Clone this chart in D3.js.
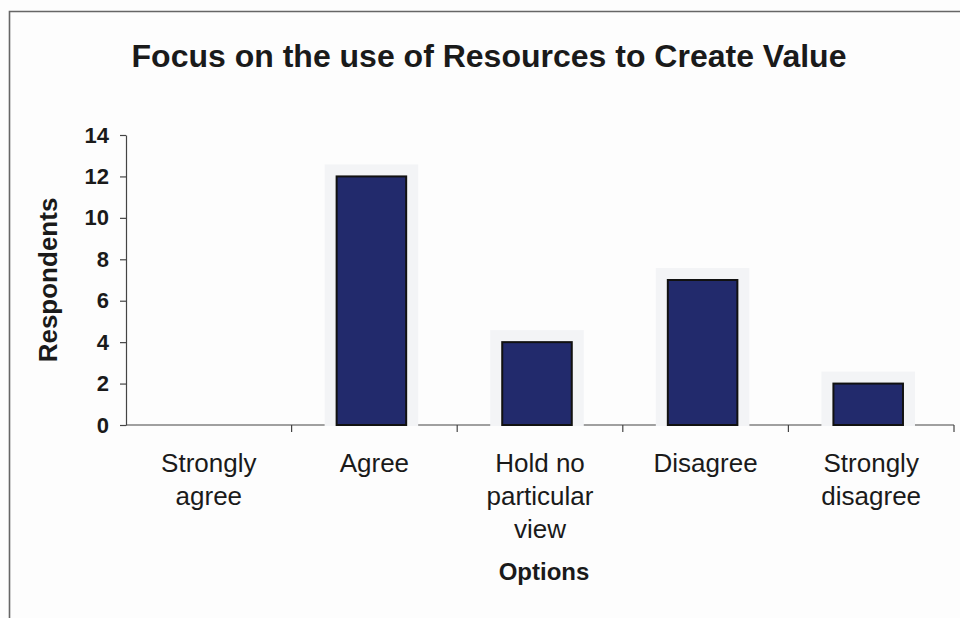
<!DOCTYPE html>
<html>
<head>
<meta charset="utf-8">
<script src="https://cdn.jsdelivr.net/npm/d3@7/dist/d3.min.js"></script>
<style>
  html, body { margin: 0; padding: 0; background: #fdfdfd; }
  svg { display: block; }
  text { font-family: "Liberation Sans", Arial, sans-serif; fill: #1a1a1a; }
</style>
</head>
<body>
<svg id="chart" width="960" height="618"></svg>
<script>
// Survey responses: "Focus on the use of Resources to Create Value"
const categories = ["Strongly agree", "Agree", "Hold no particular view", "Disagree", "Strongly disagree"];
const categoryLines = [["Strongly", "agree"], ["Agree"], ["Hold no", "particular", "view"], ["Disagree"], ["Strongly", "disagree"]];
const respondents = [0, 12, 4, 7, 2];
const yTicks = [0, 2, 4, 6, 8, 10, 12, 14];

const titleText = "Focus on the use of Resources to Create Value";
const yTitle = "Respondents";
const xTitle = "Options";

const svg = d3.select("#chart");
const W = 960, H = 618;
const plot = { left: 126, right: 954, top: 135, bottom: 425 };

// Chart frame
svg.append("path")
  .attr("d", `M9.5,${H} V11.5 H${W}`)
  .attr("fill", "none")
  .attr("stroke", "#666")
  .attr("stroke-width", 1.6);

const x = d3.scaleBand().domain(categories).range([plot.left, plot.right]).padding(0);
const y = d3.scaleLinear().domain([0, 14]).range([plot.bottom, plot.top]);

// Title
svg.append("text")
  .attr("x", 489).attr("y", 67)
  .attr("text-anchor", "middle")
  .attr("font-size", 32).attr("font-weight", "bold")
  .text(titleText);

// Y axis
const yAxis = d3.axisLeft(y).tickValues(yTicks).tickSize(6).tickSizeOuter(0).tickPadding(11);
const gy = svg.append("g").attr("transform", `translate(${plot.left},0)`).call(yAxis);
gy.select(".domain").attr("stroke", "#444").attr("stroke-width", 1.2);
gy.selectAll(".tick line").attr("stroke", "#444").attr("stroke-width", 1.2);
gy.selectAll(".tick text")
  .attr("font-size", 22).attr("font-weight", "bold")
  .attr("font-family", "'Liberation Sans', Arial, sans-serif")
  .attr("fill", "#1a1a1a");

svg.append("text")
  .attr("transform", `translate(57,${(plot.top + plot.bottom) / 2}) rotate(-90)`)
  .attr("text-anchor", "middle")
  .attr("font-size", 26).attr("font-weight", "bold")
  .text(yTitle);

// X axis: line with ticks at category boundaries
const gx = svg.append("g");
gx.append("line")
  .attr("x1", plot.left).attr("x2", plot.right)
  .attr("y1", plot.bottom).attr("y2", plot.bottom)
  .attr("stroke", "#444").attr("stroke-width", 1.2);
const boundaries = categories.map(c => x(c)).concat([x(categories[categories.length - 1]) + x.bandwidth()]);
gx.selectAll("line.tick")
  .data(boundaries.slice(1))
  .join("line")
  .attr("class", "tick")
  .attr("x1", d => d).attr("x2", d => d)
  .attr("y1", plot.bottom).attr("y2", plot.bottom + 7)
  .attr("stroke", "#444").attr("stroke-width", 1.2);

// Bars with a faint halo behind them
const barW = x.bandwidth() * 0.42;
const shift = -3;
const halo = 12;
const bars = svg.append("g");
const barData = categories.map((c, i) => ({ c, v: respondents[i] })).filter(d => d.v > 0);

bars.selectAll("rect.halo")
  .data(barData)
  .join("rect")
  .attr("class", "halo")
  .attr("x", d => x(d.c) + (x.bandwidth() - barW) / 2 + shift - halo)
  .attr("y", d => y(d.v) - halo)
  .attr("width", barW + 2 * halo)
  .attr("height", d => y(0) - y(d.v) + halo + 1)
  .attr("fill", "#f3f4f6");

bars.selectAll("rect.bar")
  .data(barData)
  .join("rect")
  .attr("class", "bar")
  .attr("x", d => x(d.c) + (x.bandwidth() - barW) / 2 + shift)
  .attr("y", d => y(d.v))
  .attr("width", barW)
  .attr("height", d => y(0) - y(d.v))
  .attr("fill", "#222a6c")
  .attr("stroke", "#111")
  .attr("stroke-width", 2);

// Category labels
const labels = svg.append("g");
categories.forEach((c, i) => {
  const t = labels.append("text")
    .attr("x", x(c) + x.bandwidth() / 2)
    .attr("y", 472)
    .attr("text-anchor", "middle")
    .attr("font-size", 26);
  categoryLines[i].forEach((line, j) => {
    t.append("tspan")
      .attr("x", x(c) + x.bandwidth() / 2)
      .attr("dy", j === 0 ? 0 : 33)
      .text(line);
  });
});

svg.append("text")
  .attr("x", 544).attr("y", 580)
  .attr("text-anchor", "middle")
  .attr("font-size", 24).attr("font-weight", "bold")
  .text(xTitle);
</script>
</body>
</html>
